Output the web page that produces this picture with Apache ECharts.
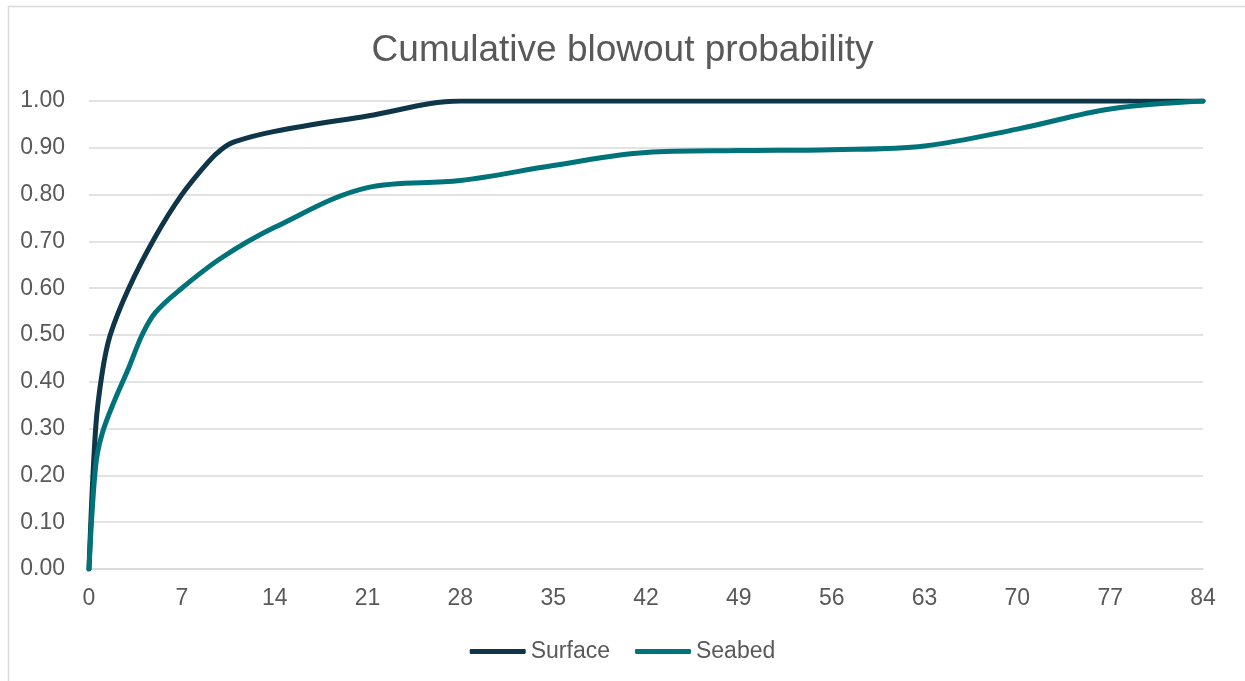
<!DOCTYPE html>
<html>
<head>
<meta charset="utf-8">
<title>Cumulative blowout probability</title>
<script src="https://cdn.jsdelivr.net/npm/echarts@6/dist/echarts.min.js"></script>
<style>
  html, body { margin: 0; padding: 0; background: #ffffff; }
  #chart { width: 1245px; height: 681px; }
</style>
</head>
<body>
<div id="chart"></div>
<script>
// Days since start of the blowout and the cumulative probability of it having ended
const titleText = 'Cumulative blowout probability';
const seriesNames = ['Surface', 'Seabed'];

const surfaceDays   = [0, 0.5, 1, 1.6, 3, 5, 7, 9, 10, 11, 14, 21, 28, 35, 42, 49, 56, 63, 70, 77, 84];
const surfaceValues = [0, 0.30, 0.42, 0.50, 0.60, 0.71, 0.80, 0.87, 0.897, 0.913, 0.935, 0.968, 1.0, 1.0, 1.0, 1.0, 1.0, 1.0, 1.0, 1.0, 1.0];

const seabedDays    = [0, 0.5, 1, 2, 3, 4, 5, 7, 10, 14, 21, 28, 35, 42, 49, 56, 63, 70, 77, 84];
const seabedValues  = [0, 0.22, 0.29, 0.365, 0.43, 0.50, 0.548, 0.60, 0.665, 0.73, 0.815, 0.83, 0.862, 0.89, 0.894, 0.896, 0.904, 0.94, 0.983, 1.0];

const xTickStep = 7;
const xMax = 84;
const yTickStep = 0.1;

const zip = (xs, ys) => xs.map((x, i) => [x, ys[i]]);

const textColor = '#595959';
const gridColor = '#d9d9d9';
const fontFamily = '"Liberation Sans", Arial, sans-serif';

const chart = echarts.init(document.getElementById('chart'), null, { renderer: 'canvas' });

chart.setOption({
  backgroundColor: '#ffffff',
  animation: false,
  title: {
    text: titleText,
    left: 'center',
    top: 27,
    textStyle: { color: textColor, fontSize: 37, fontWeight: 'normal', fontFamily: fontFamily }
  },
  graphic: [{
    type: 'rect',
    left: 6,
    top: 4,
    shape: { width: 1400, height: 900 },
    style: { fill: 'none', stroke: gridColor, lineWidth: 1.5 },
    silent: true
  }],
  legend: {
    bottom: 13,
    left: 'center',
    itemGap: 25,
    itemWidth: 56,
    itemHeight: 5,
    icon: 'roundRect',
    textStyle: { color: textColor, fontSize: 23, fontFamily: fontFamily },
    data: seriesNames
  },
  grid: { left: 89, right: 42, top: 101, bottom: 112, containLabel: false },
  xAxis: {
    type: 'value',
    min: 0,
    max: xMax,
    interval: xTickStep,
    axisLine: { show: true, lineStyle: { color: gridColor, width: 1.5 } },
    axisTick: { show: false },
    splitLine: { show: false },
    axisLabel: { color: textColor, fontSize: 23, fontFamily: fontFamily, margin: 18 }
  },
  yAxis: {
    type: 'value',
    min: 0,
    max: 1,
    interval: yTickStep,
    axisLine: { show: false },
    axisTick: { show: false },
    splitLine: { show: true, lineStyle: { color: gridColor, width: 1.5 } },
    axisLabel: {
      color: textColor, fontSize: 23, fontFamily: fontFamily, margin: 24,
      formatter: v => v.toFixed(2)
    }
  },
  series: [
    {
      name: seriesNames[0],
      type: 'line',
      data: zip(surfaceDays, surfaceValues),
      smooth: 0.35,
      showSymbol: false,
      lineStyle: { color: '#0f3548', width: 5, cap: 'round' },
      itemStyle: { color: '#0f3548' }
    },
    {
      name: seriesNames[1],
      type: 'line',
      data: zip(seabedDays, seabedValues),
      smooth: 0.35,
      showSymbol: false,
      lineStyle: { color: '#00737a', width: 5, cap: 'round' },
      itemStyle: { color: '#00737a' }
    }
  ]
});
</script>
</body>
</html>
